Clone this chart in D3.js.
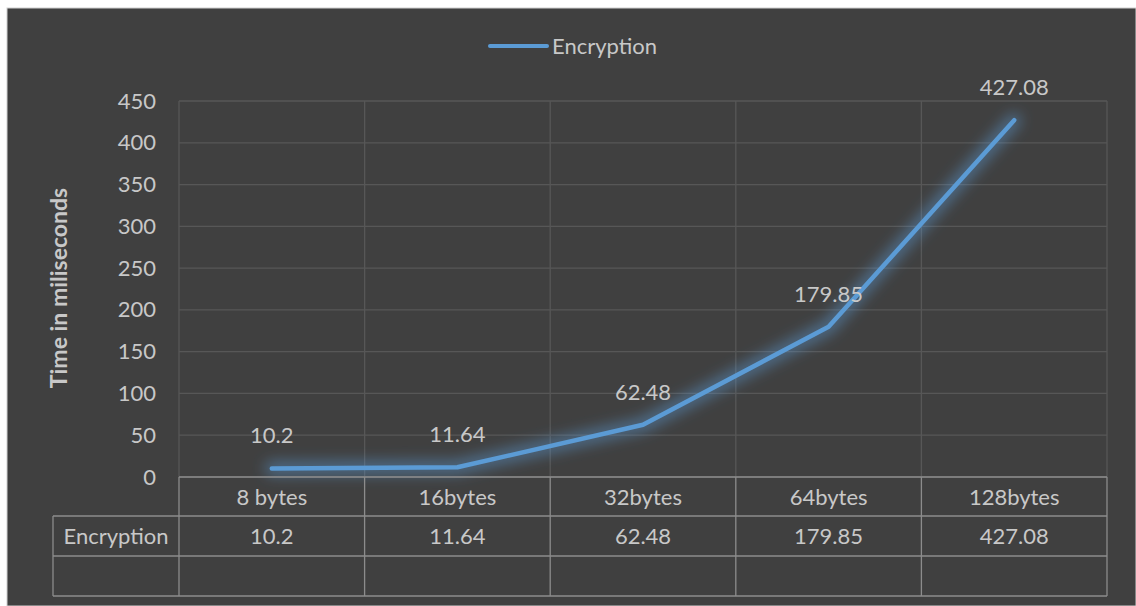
<!DOCTYPE html>
<html><head><meta charset="utf-8">
<script src="https://cdn.jsdelivr.net/npm/d3@7"></script>
<style>html,body{margin:0;padding:0;background:#fff;}svg{display:block;}</style>
</head><body>
<svg id="chart" width="1136" height="606"></svg>
<script>
const categories = ["8 bytes", "16bytes", "32bytes", "64bytes", "128bytes"];
const seriesName = "Encryption";
const values = [10.2, 11.64, 62.48, 179.85, 427.08];
const valueLabels = ["10.2", "11.64", "62.48", "179.85", "427.08"];
const yTicks = [0, 50, 100, 150, 200, 250, 300, 350, 400, 450];
const yTitle = "Time in miliseconds";

const W = 1136, H = 606;
const svg = d3.select("#chart");
const font = "Lato, 'Open Sans', sans-serif";
const textCol = "#c8c8c8";
const fs = 22;

svg.append("rect").attr("x",0).attr("y",0).attr("width",W).attr("height",H).attr("fill","#ffffff");
svg.append("rect").attr("x",7).attr("y",8).attr("width",W-7).attr("height",H-8).attr("fill","#404040").attr("stroke","#d0d0d0").attr("stroke-width",1);

const defs = svg.append("defs");
const f = defs.append("filter").attr("id","glow").attr("x","-20%").attr("y","-20%").attr("width","140%").attr("height","140%");
f.append("feGaussianBlur").attr("in","SourceGraphic").attr("stdDeviation",7).attr("result","b");
const fm = f.append("feMerge");
fm.append("feMergeNode").attr("in","b");

const pLeft = 179, pRight = 1107, pTop = 101, pBottom = 477;
const x = d3.scaleBand().domain(categories).range([pLeft, pRight]).padding(0);
const y = d3.scaleLinear().domain([0, 450]).range([pBottom, pTop]);

// horizontal gridlines
svg.append("g").selectAll("line").data(yTicks).join("line")
  .attr("x1", pLeft).attr("x2", pRight)
  .attr("y1", d => y(d)).attr("y2", d => y(d))
  .attr("stroke", "#575757").attr("stroke-width", 1.3);
// vertical gridlines
const bounds = categories.map(c => x(c)).concat([pRight]);
svg.append("g").selectAll("line").data(bounds).join("line")
  .attr("x1", d => d).attr("x2", d => d)
  .attr("y1", pTop).attr("y2", pBottom)
  .attr("stroke", "#575757").attr("stroke-width", 1.3);

// y tick labels
const yAxis = d3.axisLeft(y).tickValues(yTicks).tickSize(0).tickPadding(23);
const ga = svg.append("g").attr("transform", `translate(${pLeft},0)`).call(yAxis);
ga.select(".domain").remove();
ga.selectAll("text").attr("fill", textCol).attr("font-family", font).attr("font-size", fs);

// y title
svg.append("text").attr("transform", `translate(67,${(183+393)/2}) rotate(-90)`)
  .attr("text-anchor","middle").attr("fill", textCol).attr("font-family", font)
  .attr("font-size", 23).attr("font-weight","bold").text(yTitle);

// line
const cx = c => x(c) + x.bandwidth()/2;
const line = d3.line().x((d,i) => cx(categories[i])).y(d => y(d));
svg.append("path").datum(values).attr("d", line).attr("fill","none")
  .attr("stroke","#5b9bd5").attr("stroke-width",14).attr("stroke-opacity",0.5)
  .attr("stroke-linecap","round").attr("stroke-linejoin","round").attr("filter","url(#glow)");
svg.append("path").datum(values).attr("d", line).attr("fill","none")
  .attr("stroke","#5b9bd5").attr("stroke-width",4.5)
  .attr("stroke-linecap","round").attr("stroke-linejoin","round");

// data labels
svg.append("g").selectAll("text").data(values).join("text")
  .attr("x", (d,i) => cx(categories[i])).attr("y", d => y(d) - 25)
  .attr("text-anchor","middle").attr("fill", textCol).attr("font-family", font).attr("font-size", fs)
  .text((d,i) => valueLabels[i]);

// legend
svg.append("line").attr("x1",490).attr("x2",547).attr("y1",46).attr("y2",46)
  .attr("stroke","#5b9bd5").attr("stroke-width",4).attr("stroke-linecap","round");
svg.append("text").attr("x",552).attr("y",54).attr("fill",textCol).attr("font-family",font).attr("font-size",fs).text(seriesName);

// data table
const tcol = "#8c8c8c";
const r0 = 477, r1 = 516, r2 = 556, r3 = 596, tl = 53;
const tg = svg.append("g").attr("stroke", tcol).attr("stroke-width",1.3);
tg.append("line").attr("x1",pLeft).attr("x2",pRight).attr("y1",r0).attr("y2",r0);
[r1,r2,r3].forEach(r => tg.append("line").attr("x1",tl).attr("x2",pRight).attr("y1",r).attr("y2",r));
bounds.forEach(b => tg.append("line").attr("x1",b).attr("x2",b).attr("y1",r0).attr("y2",r3));
tg.append("line").attr("x1",tl).attr("x2",tl).attr("y1",r1).attr("y2",r3);

svg.append("g").selectAll("text").data(categories).join("text")
  .attr("x", d => cx(d)).attr("y", (r0+r1)/2 + 8).attr("text-anchor","middle")
  .attr("fill", textCol).attr("font-family", font).attr("font-size", fs).text(d => d);
svg.append("g").selectAll("text").data(values).join("text")
  .attr("x", (d,i) => cx(categories[i])).attr("y", (r1+r2)/2 + 8).attr("text-anchor","middle")
  .attr("fill", textCol).attr("font-family", font).attr("font-size", fs).text((d,i) => valueLabels[i]);
svg.append("text").attr("x", (tl+pLeft)/2).attr("y", (r1+r2)/2 + 8).attr("text-anchor","middle")
  .attr("fill", textCol).attr("font-family", font).attr("font-size", fs).text(seriesName);
</script>
</body></html>
